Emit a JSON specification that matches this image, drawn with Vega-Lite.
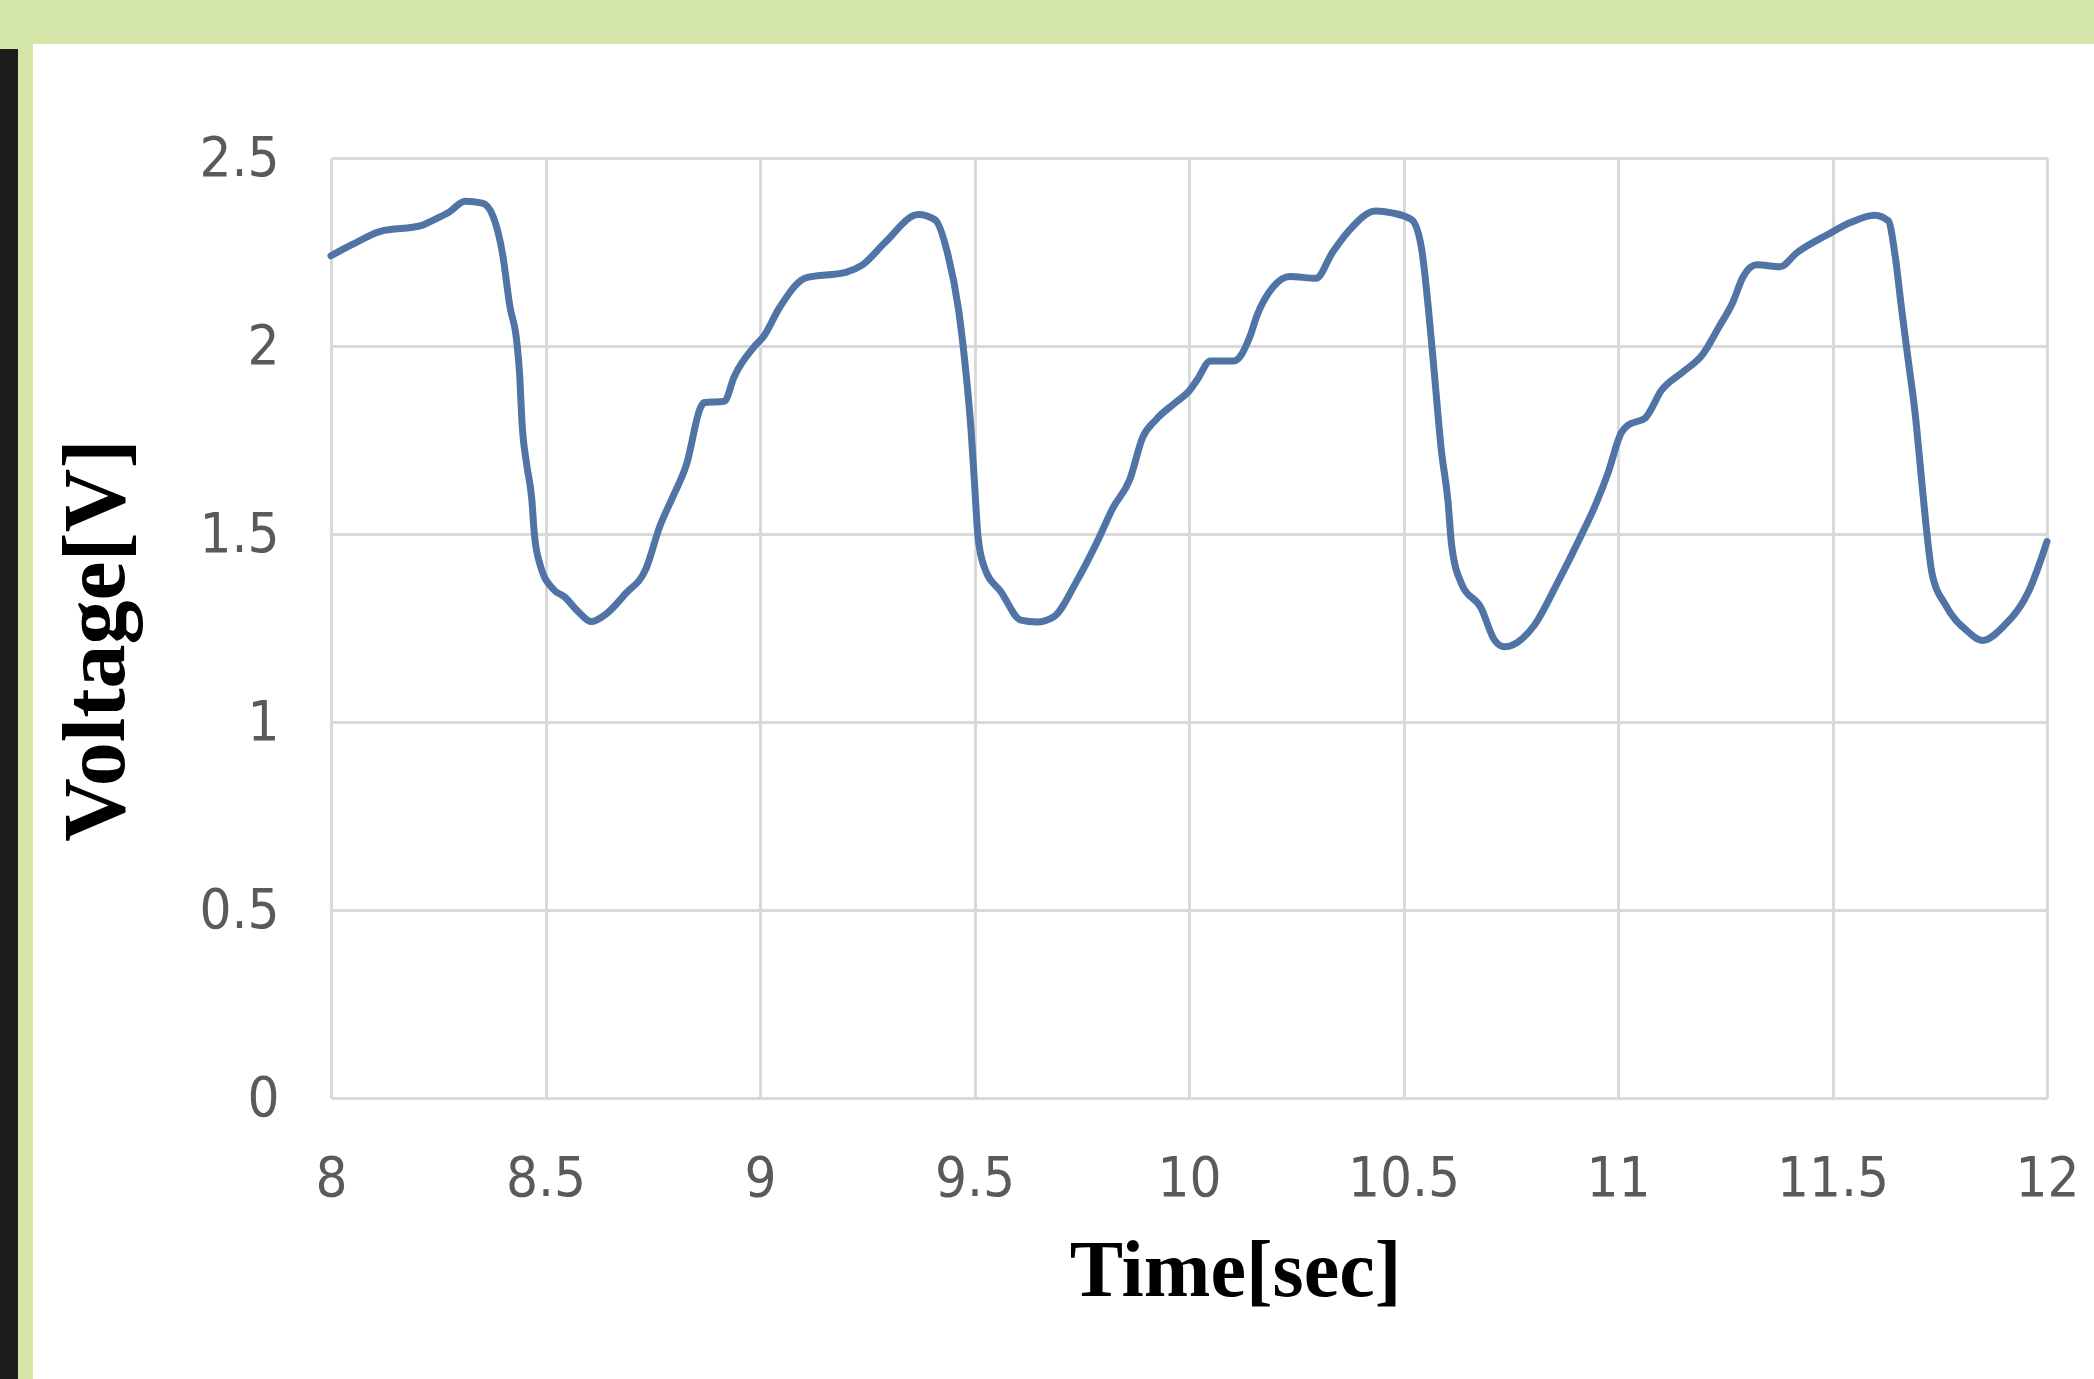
{
  "$schema": "https://vega.github.io/schema/vega-lite/v6.json",
  "autosize": {"type": "none"},
  "width": 1716,
  "height": 940,
  "padding": {"left": 331, "top": 158, "right": 47, "bottom": 281},
  "background": "#ffffff",
  "config": {"view": {"stroke": null}},
  "layer": [
    {
      "data": {"values": [{}]},
      "mark": {"type": "rect", "color": "#d3e6a7", "clip": false},
      "encoding": {
        "x": {"datum": 7.2, "type": "quantitative", "scale": {"domain": [8, 12], "nice": false, "zero": false}},
        "x2": {"datum": 12.2},
        "y": {"datum": 2.803, "type": "quantitative", "scale": {"domain": [0, 2.5], "nice": false, "zero": false}},
        "y2": {"datum": 2.96}
      }
    },
    {
      "data": {"values": [{}]},
      "mark": {"type": "rect", "color": "#d3e6a7", "clip": false},
      "encoding": {
        "x": {"datum": 7.2, "type": "quantitative"},
        "x2": {"datum": 7.3054},
        "y": {"datum": -0.8, "type": "quantitative"},
        "y2": {"datum": 2.96}
      }
    },
    {
      "data": {"values": [{}]},
      "mark": {"type": "rect", "color": "#1c1c1c", "clip": false},
      "encoding": {
        "x": {"datum": 7.2, "type": "quantitative"},
        "x2": {"datum": 7.2704},
        "y": {"datum": -0.8, "type": "quantitative"},
        "y2": {"datum": 2.79}
      }
    },
    {
      "data": {"values": [
        {"t": 8.0, "v": 2.24}, {"t": 8.05, "v": 2.27}, {"t": 8.115, "v": 2.305}, {"t": 8.21, "v": 2.32},
        {"t": 8.235, "v": 2.333}, {"t": 8.275, "v": 2.356}, {"t": 8.313, "v": 2.385}, {"t": 8.353, "v": 2.38},
        {"t": 8.377, "v": 2.347}, {"t": 8.4, "v": 2.244}, {"t": 8.417, "v": 2.105}, {"t": 8.433, "v": 2.012},
        {"t": 8.44, "v": 1.919}, {"t": 8.445, "v": 1.8}, {"t": 8.456, "v": 1.686}, {"t": 8.468, "v": 1.593},
        {"t": 8.474, "v": 1.5}, {"t": 8.488, "v": 1.416}, {"t": 8.52, "v": 1.351}, {"t": 8.544, "v": 1.333},
        {"t": 8.575, "v": 1.295}, {"t": 8.607, "v": 1.267}, {"t": 8.64, "v": 1.286}, {"t": 8.687, "v": 1.342},
        {"t": 8.734, "v": 1.407}, {"t": 8.766, "v": 1.519}, {"t": 8.798, "v": 1.602}, {"t": 8.829, "v": 1.686},
        {"t": 8.861, "v": 1.835}, {"t": 8.869, "v": 1.849}, {"t": 8.917, "v": 1.853}, {"t": 8.94, "v": 1.919},
        {"t": 8.988, "v": 2.0}, {"t": 9.008, "v": 2.025}, {"t": 9.046, "v": 2.103}, {"t": 9.108, "v": 2.182},
        {"t": 9.2, "v": 2.196}, {"t": 9.238, "v": 2.215}, {"t": 9.292, "v": 2.276}, {"t": 9.369, "v": 2.35},
        {"t": 9.408, "v": 2.336}, {"t": 9.438, "v": 2.243}, {"t": 9.462, "v": 2.103}, {"t": 9.477, "v": 1.963},
        {"t": 9.492, "v": 1.776}, {"t": 9.5, "v": 1.636}, {"t": 9.508, "v": 1.495}, {"t": 9.523, "v": 1.411},
        {"t": 9.562, "v": 1.346}, {"t": 9.608, "v": 1.271}, {"t": 9.646, "v": 1.266}, {"t": 9.685, "v": 1.28},
        {"t": 9.738, "v": 1.374}, {"t": 9.785, "v": 1.477}, {"t": 9.823, "v": 1.57}, {"t": 9.862, "v": 1.645},
        {"t": 9.892, "v": 1.757}, {"t": 9.923, "v": 1.804}, {"t": 9.969, "v": 1.85}, {"t": 10.0, "v": 1.88},
        {"t": 10.019, "v": 1.91}, {"t": 10.05, "v": 1.96}, {"t": 10.104, "v": 1.96}, {"t": 10.142, "v": 2.025},
        {"t": 10.158, "v": 2.08}, {"t": 10.196, "v": 2.157}, {"t": 10.235, "v": 2.185}, {"t": 10.296, "v": 2.18},
        {"t": 10.335, "v": 2.25}, {"t": 10.373, "v": 2.307}, {"t": 10.435, "v": 2.359}, {"t": 10.473, "v": 2.354},
        {"t": 10.519, "v": 2.336}, {"t": 10.542, "v": 2.26}, {"t": 10.558, "v": 2.1}, {"t": 10.573, "v": 1.913},
        {"t": 10.588, "v": 1.725}, {"t": 10.604, "v": 1.584}, {"t": 10.612, "v": 1.472}, {"t": 10.635, "v": 1.368},
        {"t": 10.681, "v": 1.303}, {"t": 10.712, "v": 1.218}, {"t": 10.735, "v": 1.2}, {"t": 10.804, "v": 1.256},
        {"t": 10.858, "v": 1.368}, {"t": 10.912, "v": 1.491}, {"t": 10.95, "v": 1.584}, {"t": 10.976, "v": 1.66},
        {"t": 11.008, "v": 1.77}, {"t": 11.024, "v": 1.79}, {"t": 11.063, "v": 1.808}, {"t": 11.102, "v": 1.883},
        {"t": 11.15, "v": 1.93}, {"t": 11.197, "v": 1.977}, {"t": 11.236, "v": 2.052}, {"t": 11.268, "v": 2.117},
        {"t": 11.291, "v": 2.183}, {"t": 11.323, "v": 2.216}, {"t": 11.378, "v": 2.211}, {"t": 11.417, "v": 2.248},
        {"t": 11.488, "v": 2.296}, {"t": 11.543, "v": 2.329}, {"t": 11.598, "v": 2.348}, {"t": 11.63, "v": 2.333},
        {"t": 11.646, "v": 2.24}, {"t": 11.661, "v": 2.099}, {"t": 11.677, "v": 1.958}, {"t": 11.693, "v": 1.817},
        {"t": 11.705, "v": 1.676}, {"t": 11.717, "v": 1.535}, {"t": 11.732, "v": 1.395}, {"t": 11.764, "v": 1.31},
        {"t": 11.811, "v": 1.245}, {"t": 11.85, "v": 1.217}, {"t": 11.898, "v": 1.254}, {"t": 11.961, "v": 1.357},
        {"t": 12.0, "v": 1.48}
      ]},
      "mark": {"type": "line", "color": "#4f74a5", "strokeWidth": 7, "strokeJoin": "round", "strokeCap": "round", "interpolate": "monotone"},
      "encoding": {
        "x": {
          "field": "t", "type": "quantitative",
          "axis": {
            "values": [8, 8.5, 9, 9.5, 10, 10.5, 11, 11.5, 12],
            "format": ".1~f",
            "title": "Time[sec]",
            "domain": false, "ticks": false,
            "grid": true, "gridColor": "#d9d9d9", "gridWidth": 3,
            "labelFont": "Liberation Sans Narrow, DejaVu Sans Condensed, Liberation Sans", "labelFontSize": 56, "labelColor": "#5a5a5a",
            "labelPadding": 53, "labelFlush": false, "labelOverlap": false, "labelBound": false,
            "titleFont": "Liberation Serif", "titleFontWeight": "bold", "titleFontSize": 80, "titleColor": "#000000",
            "titlePadding": 26, "titleX": 904
          }
        },
        "y": {
          "field": "v", "type": "quantitative",
          "axis": {
            "values": [0, 0.5, 1, 1.5, 2, 2.5],
            "format": ".1~f",
            "title": "Voltage[V]",
            "domain": false, "ticks": false,
            "grid": true, "gridColor": "#d9d9d9", "gridWidth": 3,
            "labelFont": "Liberation Sans Narrow, DejaVu Sans Condensed, Liberation Sans", "labelFontSize": 56, "labelColor": "#5a5a5a",
            "labelPadding": 52, "labelFlush": false, "labelOverlap": false, "labelBound": false,
            "titleFont": "Liberation Serif", "titleFontWeight": "bold", "titleFontSize": 88, "titleColor": "#000000",
            "titlePadding": 57, "titleY": 482
          }
        }
      }
    }
  ]
}
